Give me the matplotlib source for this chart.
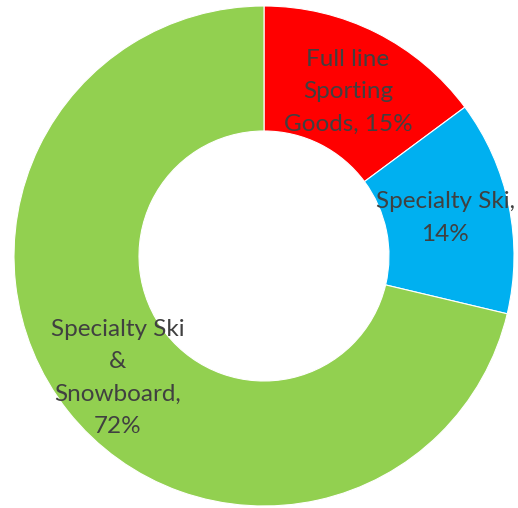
import matplotlib
matplotlib.use('Agg')
import matplotlib.pyplot as plt

# channel share, clockwise from 12 o'clock
channels = ['Full line\nSporting\nGoods,', 'Specialty Ski,', 'Specialty Ski\n&\nSnowboard,']
shares = [15, 14, 72]
colors = ['#FF0000', '#00B0F0', '#92D050']
label_pos = [(0.336, 0.656), (0.724, 0.152), (-0.584, -0.488)]

plt.rcParams['font.family'] = ['Lato', 'DejaVu Sans']

fig = plt.figure(figsize=(5.18, 5.08), dpi=100)
ax = fig.add_axes([0, 0, 1, 1])

ax.pie(shares, colors=colors, startangle=90, counterclock=False, radius=1.0,
       wedgeprops=dict(width=0.5, edgecolor='white', linewidth=0.8))

for name, val, (x, y) in zip(channels, shares, label_pos):
    sep = ' ' if name.endswith('Goods,') else '\n'
    ax.text(x, y, f'{name}{sep}{val}%', ha='center', va='center',
            fontsize=17.5, color='#404040', linespacing=1.65)

ax.set_xlim(-264 / 250, 254 / 250)
ax.set_ylim(-252 / 250, 256 / 250)
ax.set_aspect('equal')
ax.axis('off')

fig.savefig('out.png', dpi=100)
